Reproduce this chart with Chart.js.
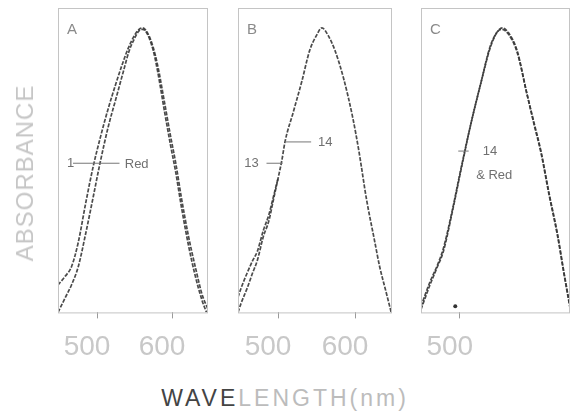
<!DOCTYPE html>
<html>
<head>
<meta charset="utf-8">
<script src="https://cdn.jsdelivr.net/npm/chart.js@4"></script>
<style>
  body { margin: 0; background: #fff; width: 571px; height: 419px; position: relative; overflow: hidden; }
  canvas { position: absolute; top: 0; }
  .ylab { position: absolute; left: 25px; top: 173px; transform: translate(-50%, -50%) rotate(-90deg);
          font: 24px "Liberation Sans", Arial, sans-serif; color: #c6c6c6; letter-spacing: 1px; white-space: nowrap; }
  .xlab { position: absolute; left: 285px; top: 398px; transform: translate(-50%, -50%);
          font: 23px "Liberation Sans", Arial, sans-serif; color: #bcbcbc; letter-spacing: 3px; white-space: nowrap; }
  .xlab span { color: #444; }
</style>
</head>
<body>
<canvas id="panelA" width="200" height="376" style="left:30px"></canvas>
<canvas id="panelB" width="200" height="376" style="left:215px"></canvas>
<canvas id="panelC" width="171" height="376" style="left:400px"></canvas>
<div class="ylab">ABSORBANCE</div>
<div class="xlab"><span>WAVE</span>LENGTH(nm)</div>
<script>
// wavelength (nm) and absorbance
const wlA1 = [448, 458, 466, 475, 485, 495, 505, 515, 525, 533, 542, 550, 556, 561, 567, 575, 581, 590, 598, 605, 613, 622, 631, 640, 648];
const absA1 = [0.09, 0.12, 0.15, 0.23, 0.36, 0.48, 0.58, 0.67, 0.75, 0.81, 0.87, 0.91, 0.93, 0.935, 0.92, 0.87, 0.81, 0.69, 0.58, 0.49, 0.37, 0.25, 0.15, 0.06, 0.01];
const wlARed = [448, 458, 466, 475, 485, 495, 504, 515, 525, 535, 543, 550, 556, 561, 567, 575, 581, 590, 598, 605, 613, 622, 631, 640, 646];
const absARed = [0.0, 0.05, 0.09, 0.15, 0.26, 0.38, 0.49, 0.61, 0.70, 0.79, 0.86, 0.90, 0.925, 0.93, 0.915, 0.86, 0.79, 0.66, 0.55, 0.46, 0.34, 0.22, 0.12, 0.04, 0.0];

const wlB14 = [448, 452, 460, 467, 473, 481, 488, 494, 500, 505, 509, 520, 531, 541, 550, 557, 565, 574, 585, 597, 605, 615, 625, 632, 640, 647];
const absB14 = [0.0, 0.03, 0.08, 0.13, 0.17, 0.25, 0.30, 0.37, 0.44, 0.50, 0.56, 0.66, 0.76, 0.86, 0.91, 0.935, 0.91, 0.86, 0.77, 0.64, 0.53, 0.37, 0.24, 0.15, 0.07, 0.0];
const wlB13 = [448, 452, 460, 467, 473, 481, 488, 494, 500];
const absB13 = [0.05, 0.08, 0.13, 0.17, 0.20, 0.27, 0.32, 0.38, 0.44];

const wlC14 = [448, 460, 470, 478, 490, 501, 515, 528, 541, 550, 557, 565, 577, 590, 600, 609, 620, 631, 640, 648];
const absC14 = [0.01, 0.09, 0.15, 0.20, 0.33, 0.46, 0.62, 0.75, 0.875, 0.92, 0.935, 0.92, 0.86, 0.72, 0.62, 0.53, 0.39, 0.26, 0.13, 0.02];
const absCRed = [0.02, 0.10, 0.155, 0.21, 0.335, 0.465, 0.62, 0.75, 0.87, 0.92, 0.93, 0.915, 0.855, 0.72, 0.615, 0.525, 0.385, 0.255, 0.125, 0.015];

const tickNm = [500, 600];
const tickNmC = [500];

function pts(xs, ys) {
  return xs.map((x, i) => ({ x: x, y: ys[i] }));
}

function curve(xs, ys) {
  return {
    data: pts(xs, ys),
    borderColor: 'rgba(55, 55, 55, 0.9)',
    borderWidth: 1.7,
    borderDash: [4, 1.5],
    pointRadius: 0,
    cubicInterpolationMode: 'monotone',
    fill: false
  };
}

// panel box, letter and the leader-line labels
const panelDeco = {
  id: 'panelDeco',
  afterDraw(chart) {
    const o = chart.options.plugins.panelDeco;
    const { ctx, chartArea: a, scales } = chart;
    const px = v => scales.x.getPixelForValue(v);
    const py = v => scales.y.getPixelForValue(v);
    ctx.save();
    ctx.strokeStyle = '#c4c4c4';
    ctx.lineWidth = 1;
    ctx.strokeRect(a.left + 0.5, a.top + 0.5, a.right - a.left - 1, a.bottom - a.top);
    ctx.fillStyle = '#8a8a8a';
    ctx.font = '15px "Liberation Sans", Arial, sans-serif';
    ctx.textBaseline = 'middle';
    ctx.fillText(o.letter, a.left + 9, a.top + 22);
    ctx.font = '13px "Liberation Sans", Arial, sans-serif';
    ctx.fillStyle = '#707070';
    ctx.strokeStyle = '#777';
    o.notes.forEach(n => {
      if (n.line) {
        ctx.beginPath();
        ctx.moveTo(px(n.line[0]), py(n.y));
        ctx.lineTo(px(n.line[1]), py(n.y));
        ctx.stroke();
      }
      if (n.text) ctx.fillText(n.text, px(n.x), py(n.y));
    });
    if (o.dot) {
      ctx.fillStyle = '#333';
      ctx.beginPath();
      ctx.arc(px(o.dot[0]), py(o.dot[1]), 2, 0, Math.PI * 2);
      ctx.fill();
    }
    ctx.restore();
  }
};

function makePanel(id, datasets, ticks, pad, deco) {
  return new Chart(document.getElementById(id), {
    type: 'line',
    data: { datasets: datasets },
    plugins: [panelDeco],
    options: {
      responsive: false,
      animation: false,
      layout: { padding: { left: pad[0], right: pad[1], top: 8, bottom: 0 } },
      plugins: { legend: { display: false }, tooltip: { enabled: false }, panelDeco: deco },
      scales: {
        x: {
          type: 'linear', min: 448, max: 648,
          afterBuildTicks: s => { s.ticks = ticks.map(v => ({ value: v })); },
          grid: { drawOnChartArea: false, drawTicks: true, tickLength: 6, color: '#9a9a9a' },
          border: { display: false },
          ticks: {
            color: '#c8c8c8', padding: 12, labelOffset: -10, maxRotation: 0,
            font: { family: '"Liberation Sans", Arial, sans-serif', size: 28 }
          }
        },
        y: { display: false, min: 0, max: 1 }
      }
    }
  });
}

makePanel('panelA', [curve(wlA1, absA1), curve(wlARed, absARed)], tickNm, [28, 22], {
  letter: 'A',
  notes: [
    { text: '1', x: 460, y: 0.49, line: [468, 530] },
    { text: 'Red', x: 537, y: 0.485 }
  ]
});

makePanel('panelB', [curve(wlB14, absB14), curve(wlB13, absB13)], tickNm, [23, 23], {
  letter: 'B',
  notes: [
    { text: '14', x: 552, y: 0.56, line: [509, 543] },
    { text: '13', x: 456, y: 0.49, line: [485, 506] }
  ]
});

makePanel('panelC', [curve(wlC14, absC14), curve(wlC14, absCRed)], tickNmC, [21, 1], {
  letter: 'C',
  notes: [
    { text: '14', x: 531, y: 0.53, line: [498, 512] },
    { text: '& Red', x: 522, y: 0.45 }
  ],
  dot: [494, 0.02]
});
</script>
</body>
</html>
